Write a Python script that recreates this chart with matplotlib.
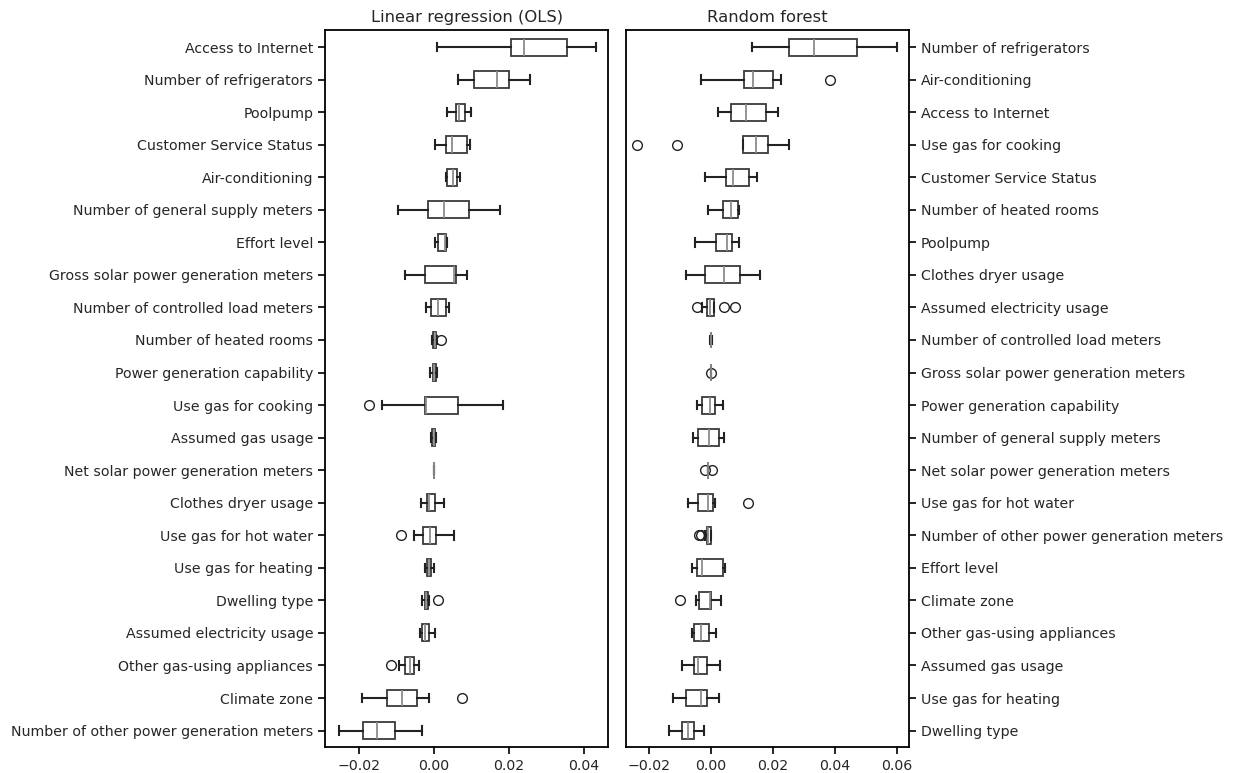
import matplotlib
matplotlib.use('Agg')
import matplotlib.pyplot as plt

# Linear regression (OLS): whislo, q1, med, q3, whishi, fliers
ols_labels = ['Access to Internet', 'Number of refrigerators', 'Poolpump',
              'Customer Service Status', 'Air-conditioning',
              'Number of general supply meters', 'Effort level',
              'Gross solar power generation meters',
              'Number of controlled load meters', 'Number of heated rooms',
              'Power generation capability', 'Use gas for cooking',
              'Assumed gas usage', 'Net solar power generation meters',
              'Clothes dryer usage', 'Use gas for hot water',
              'Use gas for heating', 'Dwelling type',
              'Assumed electricity usage', 'Other gas-using appliances',
              'Climate zone', 'Number of other power generation meters']
ols_stats = [
    (0.0009, 0.0204, 0.0241, 0.0354, 0.0433, []),
    (0.0065, 0.0108, 0.0167, 0.0201, 0.0255, []),
    (0.0036, 0.0059, 0.0067, 0.0083, 0.0098, []),
    (0.0002, 0.0031, 0.0047, 0.0087, 0.0095, []),
    (0.0031, 0.0036, 0.0050, 0.0062, 0.0070, []),
    (-0.0097, -0.0016, 0.0028, 0.0094, 0.0175, []),
    (0.0004, 0.0012, 0.0029, 0.0032, 0.0034, []),
    (-0.0078, -0.0023, 0.0054, 0.0060, 0.0087, []),
    (-0.0021, -0.0008, 0.0012, 0.0033, 0.0039, []),
    (-0.0004, -0.0002, 0.0003, 0.0006, 0.0008, [0.0020]),
    (-0.0010, -0.0003, 0.0001, 0.0005, 0.0009, []),
    (-0.0138, -0.0025, -0.0022, 0.0064, 0.0184, [-0.0173]),
    (-0.0007, -0.0004, 0.0001, 0.0003, 0.0005, []),
    (0.0, 0.0, 0.0, 0.0, 0.0, []),
    (-0.0034, -0.0018, -0.0013, 0.0002, 0.0026, []),
    (-0.0054, -0.0029, -0.0010, 0.0005, 0.0053, [-0.0088]),
    (-0.0023, -0.0019, -0.0014, -0.0009, -0.0001, []),
    (-0.0031, -0.0024, -0.0020, -0.0015, -0.0014, [0.0011]),
    (-0.0036, -0.0031, -0.0025, -0.0013, 0.0002, []),
    (-0.0093, -0.0076, -0.0065, -0.0053, -0.0040, [-0.0115]),
    (-0.0191, -0.0124, -0.0086, -0.0046, -0.0014, [0.0074]),
    (-0.0254, -0.0188, -0.0152, -0.0103, -0.0033, []),
]

rf_labels = ['Number of refrigerators', 'Air-conditioning', 'Access to Internet',
             'Use gas for cooking', 'Customer Service Status',
             'Number of heated rooms', 'Poolpump', 'Clothes dryer usage',
             'Assumed electricity usage', 'Number of controlled load meters',
             'Gross solar power generation meters',
             'Power generation capability', 'Number of general supply meters',
             'Net solar power generation meters', 'Use gas for hot water',
             'Number of other power generation meters', 'Effort level',
             'Climate zone', 'Other gas-using appliances', 'Assumed gas usage',
             'Use gas for heating', 'Dwelling type']
rf_stats = [
    (0.0133, 0.0252, 0.0331, 0.0471, 0.0599, []),
    (-0.0031, 0.0107, 0.0137, 0.0200, 0.0226, [0.0385]),
    (0.0023, 0.0065, 0.0114, 0.0176, 0.0217, []),
    (0.0102, 0.0103, 0.0144, 0.0184, 0.0253, [-0.0237, -0.0111]),
    (-0.0019, 0.0047, 0.0072, 0.0122, 0.0147, []),
    (-0.0011, 0.0040, 0.0065, 0.0086, 0.0089, []),
    (-0.0052, 0.0017, 0.0053, 0.0069, 0.0091, []),
    (-0.0080, -0.0020, 0.0042, 0.0093, 0.0158, []),
    (-0.0028, -0.0012, -0.0003, 0.0009, 0.0011, [-0.0045, 0.0043, 0.0079]),
    (-0.0002, -0.0001, 0.0, 0.0001, 0.0002, []),
    (0.0, 0.0, 0.0, 0.0, 0.0, [0.0]),
    (-0.0045, -0.0028, -0.0002, 0.0013, 0.0039, []),
    (-0.0059, -0.0043, -0.0006, 0.0025, 0.0043, []),
    (-0.0011, -0.0010, -0.0010, -0.0009, -0.0008, [-0.0018, 0.0002]),
    (-0.0075, -0.0043, -0.0011, 0.0008, 0.0013, [0.0121]),
    (-0.0019, -0.0013, -0.0008, -0.0001, 0.0000, [-0.0038, -0.0032]),
    (-0.0060, -0.0045, -0.0029, 0.0038, 0.0045, []),
    (-0.0048, -0.0038, -0.0002, 0.0000, 0.0032, [-0.0099]),
    (-0.0060, -0.0054, -0.0032, -0.0006, 0.0016, []),
    (-0.0095, -0.0054, -0.0041, -0.0012, 0.0028, []),
    (-0.0123, -0.0079, -0.0033, -0.0012, 0.0025, []),
    (-0.0134, -0.0092, -0.0075, -0.0055, -0.0024, []),
]


def to_bxp(stats):
    return [dict(whislo=a, q1=b, med=c, q3=d, whishi=e, fliers=f)
            for a, b, c, d, e, f in stats]


def draw(ax, stats, labels, title, xlim):
    n = len(stats)
    pos = list(range(n, 0, -1))
    ax.bxp(to_bxp(stats), positions=pos, vert=False, widths=0.52,
           patch_artist=True,
           boxprops=dict(facecolor='white', edgecolor='#3a3a3a', linewidth=1.3),
           medianprops=dict(color='#8c8c8c', linewidth=1.3),
           whiskerprops=dict(color='#222222', linewidth=1.5),
           capprops=dict(color='#222222', linewidth=1.5),
           flierprops=dict(marker='o', markerfacecolor='none',
                           markeredgecolor='#222222', markersize=7))
    ax.set_yticks(pos)
    ax.set_yticklabels(labels, color='#262626')
    ax.set_ylim(0.48, n + 0.52)
    ax.set_xlim(*xlim)
    ax.set_title(title, fontsize=11.8, color='#262626')
    ax.tick_params(labelsize=10.2, width=1.2, length=5, labelcolor='#262626')
    for s in ax.spines.values():
        s.set_linewidth(1.3)


fig = plt.figure(figsize=(12.35, 7.73), dpi=100)
ax1 = fig.add_axes([0.2632, 0.033, 0.2292, 0.928])
ax2 = fig.add_axes([0.5069, 0.033, 0.2292, 0.928])

draw(ax1, ols_stats, ols_labels, 'Linear regression (OLS)', (-0.029, 0.0464))
draw(ax2, rf_stats, rf_labels, 'Random forest', (-0.0274, 0.0639))
ax1.set_xticks([-0.02, 0.0, 0.02, 0.04])
ax2.set_xticks([-0.02, 0.0, 0.02, 0.04, 0.06])
ax2.yaxis.tick_right()

fig.savefig('out.png', dpi=100)
